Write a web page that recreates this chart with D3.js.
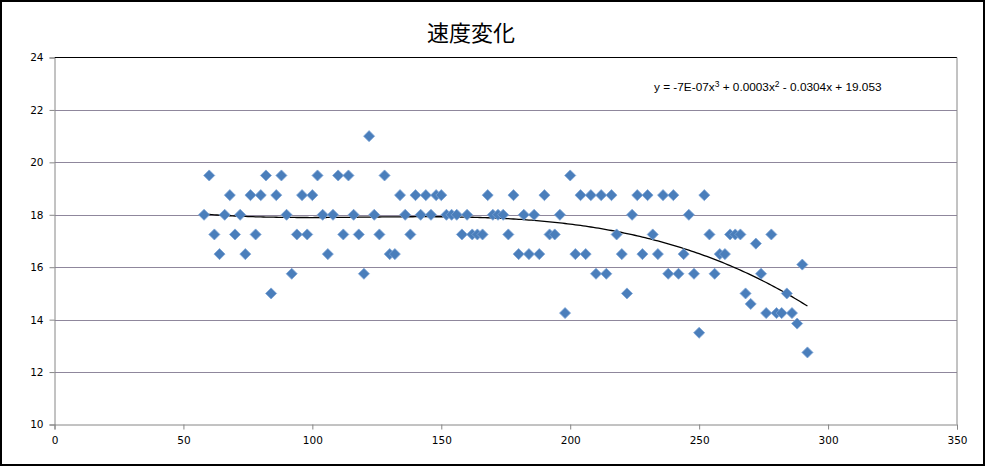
<!DOCTYPE html>
<html><head><meta charset="utf-8">
<script src="https://cdn.jsdelivr.net/npm/d3@7"></script>
<style>body{margin:0;background:#fff;} svg{display:block;}</style>
</head><body>
<svg id="c" width="985" height="466"></svg>
<script>
const title = "速度変化";
const xs = [58,60,62,64,66,68,70,72,74,76,78,80,82,84,86,88,90,92,94,96,98,100,102,104,106,108,110,112,114,116,118,120,122,124,126,128,130,132,134,136,138,140,142,144,146,148,150,152,154,156,158,160,162,164,166,168,170,172,174,176,178,180,182,184,186,188,190,192,194,196,198,200,202,204,206,208,210,212,214,216,218,220,222,224,226,228,230,232,234,236,238,240,242,244,246,248,250,252,254,256,258,260,262,264,266,268,270,272,274,276,278,280,282,284,286,288,290,292];
const ys = [18,19.5,17.25,16.5,18,18.75,17.25,18,16.5,18.75,17.25,18.75,19.5,15,18.75,19.5,18,15.75,17.25,18.75,17.25,18.75,19.5,18,16.5,18,19.5,17.25,19.5,18,17.25,15.75,21,18,17.25,19.5,16.5,16.5,18.75,18,17.25,18.75,18,18.75,18,18.75,18.75,18,18,18,17.25,18,17.25,17.25,17.25,18.75,18,18,18,17.25,18.75,16.5,18,16.5,18,16.5,18.75,17.25,17.25,18,14.25,19.5,16.5,18.75,16.5,18.75,15.75,18.75,15.75,18.75,17.25,16.5,15,18,18.75,16.5,18.75,17.25,16.5,18.75,15.75,18.75,15.75,16.5,18,15.75,13.5,18.75,17.25,15.75,16.5,16.5,17.25,17.25,17.25,15,14.6,16.9,15.75,14.25,17.25,14.25,14.25,15,14.25,13.85,16.1,12.75];
const xTicks = [0,50,100,150,200,250,300,350];
const yTicks = [10,12,14,16,18,20,22,24];

const svg = d3.select("#c");
const L=54.5, R=957, T=57.5, B=424.5;
const x = d3.scaleLinear().domain([0,350]).range([L,R]);
const y = d3.scaleLinear().domain([10,24]).range([B,T]);

svg.append("rect").attr("x",1).attr("y",1).attr("width",983).attr("height",464)
  .attr("fill","#fff").attr("stroke","#000").attr("stroke-width",2);

svg.append("g").selectAll("line").data(yTicks.filter(t=>t>10 && t<24)).join("line")
  .attr("x1",L).attr("x2",R).attr("y1",d=>Math.round(y(d))+0.5).attr("y2",d=>Math.round(y(d))+0.5)
  .attr("stroke","#8f879c").attr("stroke-width",1);
svg.append("line").attr("x1",L).attr("x2",R).attr("y1",T).attr("y2",T).attr("stroke","#000").attr("stroke-width",1);
svg.append("line").attr("x1",R).attr("x2",R).attr("y1",T).attr("y2",B).attr("stroke","#868686").attr("stroke-width",1);

const yAxis = d3.axisLeft(y).tickValues(yTicks).tickSize(5).tickPadding(6);
const xAxis = d3.axisBottom(x).tickValues(xTicks).tickSize(5).tickPadding(7);
const gy = svg.append("g").attr("transform",`translate(${L},0)`).call(yAxis);
const gx = svg.append("g").attr("transform",`translate(0,${B})`).call(xAxis);
[gy,gx].forEach(g=>{
  g.select(".domain").attr("stroke","#868686");
  g.selectAll(".tick line").attr("stroke","#868686");
  g.selectAll("text").attr("font-family","DejaVu Sans, Verdana, sans-serif").attr("font-size","10.5px").attr("fill","#000");
});

function polyfit(X,Y,deg){
  const n=deg+1;
  const A=Array.from({length:n},()=>new Array(n+1).fill(0));
  for(let i=0;i<X.length;i++){
    const p=[];for(let k=0;k<2*n;k++)p.push(Math.pow(X[i],k));
    for(let r=0;r<n;r++){for(let c=0;c<n;c++)A[r][c]+=p[r+c];A[r][n]+=p[r]*Y[i];}
  }
  for(let i=0;i<n;i++){
    let m=i;for(let r=i+1;r<n;r++)if(Math.abs(A[r][i])>Math.abs(A[m][i]))m=r;
    [A[i],A[m]]=[A[m],A[i]];
    for(let r=0;r<n;r++){if(r===i)continue;const f=A[r][i]/A[i][i];for(let c=i;c<=n;c++)A[r][c]-=f*A[i][c];}
  }
  return A.map((row,i)=>row[n]/row[i]);
}
const coef = polyfit(xs,ys,3);
const f = t => coef[0]+coef[1]*t+coef[2]*t*t+coef[3]*t*t*t;
const tx = d3.range(d3.min(xs), d3.max(xs)+0.5, 1);
svg.append("path").datum(tx)
  .attr("d", d3.line().x(d=>x(d)).y(d=>y(f(d))))
  .attr("fill","none").attr("stroke","#000").attr("stroke-width",1.3);

const sym = d3.symbol().type(d3.symbolDiamond2 || d3.symbolDiamond).size(78);
svg.append("g").selectAll("path").data(xs.map((v,i)=>[v,ys[i]])).join("path")
  .attr("d",sym).attr("transform",d=>`translate(${x(d[0])},${y(d[1])})`)
  .attr("fill","#4a7ebb").attr("stroke","#7ba3d6").attr("stroke-width",0.8);

svg.append("text").attr("x",471).attr("y",41).attr("text-anchor","middle")
  .attr("font-family","Noto Sans CJK JP, sans-serif").attr("font-size","22px").attr("fill","#000").text(title);

const eq = svg.append("text").attr("x",654).attr("y",91)
  .attr("font-family","Liberation Sans, Arial, sans-serif").attr("font-size","11.8px").attr("fill","#000");
eq.append("tspan").text("y = -7E-07x");
eq.append("tspan").attr("dy",-4.5).attr("font-size","8.5px").text("3");
eq.append("tspan").attr("dy",4.5).text(" + 0.0003x");
eq.append("tspan").attr("dy",-4.5).attr("font-size","8.5px").text("2");
eq.append("tspan").attr("dy",4.5).text(" - 0.0304x + 19.053");
</script>
</body></html>
